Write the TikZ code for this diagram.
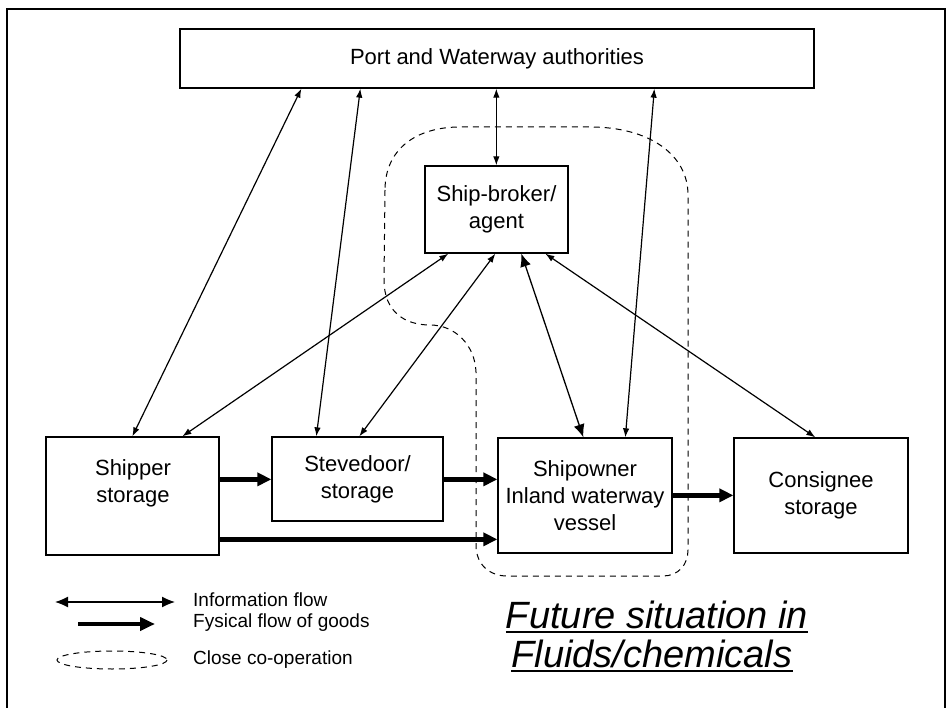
\documentclass[tikz,border=0pt]{standalone}
\usepackage{fontspec}
\setmainfont{Liberation Sans}
\usetikzlibrary{arrows.meta,calc}
\begin{document}
\begin{tikzpicture}[x=1pt,y=-1pt,
  box/.style={draw,line width=1.3pt,inner sep=0pt},
  lbl/.style={font=\fontsize{22}{27}\selectfont,align=center,inner sep=0pt},
  legtext/.style={font=\fontsize{19}{22}\selectfont,anchor=base west,inner sep=0pt},
  ttl/.style={font=\itshape\fontsize{38}{44}\selectfont,anchor=base,inner sep=0pt},
  info/.style={line width=1.2pt,{Latex[length=9pt,width=6.5pt]}-{Latex[length=9pt,width=6.5pt]}},
  infobig/.style={line width=1.3pt,{Latex[length=13pt,width=11pt]}-{Latex[length=13pt,width=11pt]}},
  goods/.style={line width=4.5pt,-{Triangle[length=14pt,width=13pt]}},
  coop/.style={line width=1pt,dash pattern=on 6pt off 5pt}
]
\useasboundingbox (0,0) rectangle (947,708);
\fill[white] (0,0) rectangle (947,708);

% outer frame
\draw[line width=1.5pt] (7,708) -- (7,9) -- (945,9) -- (945,708);

% boxes
\node[box,minimum width=634,minimum height=59] (port) at (497,58.5) {};
\node[box,minimum width=143,minimum height=87] (broker) at (496.5,209.5) {};
\node[box,minimum width=173,minimum height=118] (shipper) at (132.5,496) {};
\node[box,minimum width=171,minimum height=84] (steve) at (357.5,479) {};
\node[box,minimum width=174,minimum height=115] (owner) at (585,495.5) {};
\node[box,minimum width=174,minimum height=115] (consignee) at (821,495.5) {};

% box texts
\node[lbl] (portT) at (port.center) {Port and Waterway authorities};
\node[lbl] (brokerT) at (broker.center) {Ship-broker/\\agent};
\node[lbl] (shipperT) at (133,483) {Shipper\\storage};
\node[lbl] (steveT) at (steve.center) {Stevedoor/\\storage};
\node[lbl] (ownerT) at (owner.center) {Shipowner\\Inland waterway\\vessel};
\node[lbl] (consigneeT) at (consignee.center) {Consignee\\storage};

% close co-operation area
\draw[coop] (385,190) -- (384,280)
  .. controls (384,312) and (405,325) .. (430,325)
  .. controls (455,325) and (475,345) .. (476,372)
  -- (476,545)
  .. controls (476,565) and (490,576) .. (507,576)
  -- (663,576)
  .. controls (678,576) and (688,565) .. (688,550)
  -- (688,195)
  .. controls (688,155) and (650,127) .. (590,127)
  -- (460,127)
  .. controls (415,127) and (385,150) .. cycle;

% information flows
\draw[info] ($(port.south west)+(122,0)$) -- ($(shipper.north west)+(87,0)$);
\draw[info] ($(port.south west)+(181,0)$) -- ($(steve.north west)+(45,0)$);
\draw[info] ($(port.south west)+(317,0)$) -- ($(broker.north west)+(72,0)$);
\draw[info] ($(port.south west)+(475,0)$) -- ($(owner.north west)+(128,0)$);
\draw[info] ($(broker.south west)+(24,0)$) -- ($(shipper.north west)+(137,0)$);
\draw[info] ($(broker.south west)+(71,0)$) -- ($(steve.north west)+(88,0)$);
\draw[infobig] ($(broker.south west)+(97,0)$) -- ($(owner.north west)+(86,0)$);
\draw[info] ($(broker.south west)+(121,0)$) -- ($(consignee.north west)+(82,0)$);

% physical flows of goods
\draw[goods] ($(shipper.north east)+(0,43)$) -- ($(steve.north west)+(0,43)$);
\draw[goods] ($(steve.north east)+(0,43)$) -- ($(owner.north west)+(0,42)$);
\draw[goods] ($(shipper.north east)+(0,103)$) -- ($(owner.north west)+(0,102)$);
\draw[goods] ($(owner.north east)+(0,58)$) -- ($(consignee.north west)+(0,58)$);

% legend
\coordinate (infoL) at (55,602);
\coordinate (infoR) at (175,602);
\coordinate (goodsL) at (78,624);
\coordinate (goodsR) at (155,624);
\draw[line width=1.3pt,{Latex[length=13pt,width=11pt]}-{Latex[length=13pt,width=11pt]}] (infoL) -- (infoR);
\draw[line width=4.5pt,-{Triangle[length=15pt,width=13pt]}] (goodsL) -- (goodsR);
\draw[coop] (112,660) ellipse [x radius=55, y radius=9];
\node[legtext] (legInfo) at (193,606) {Information flow};
\node[legtext] (legGoods) at (193,627) {Fysical flow of goods};
\node[legtext] (legCoop) at (193,664) {Close co-operation};

% title
\node[ttl] (t1) at (657,628) {Future situation in};
\node[ttl] (t2) at (652,667) {Fluids/chemicals};
\draw[line width=1.6pt] ($(t1.base west)+(0,4)$) -- ($(t1.base east)+(0,4)$);
\draw[line width=1.6pt] ($(t2.base west)+(0,4)$) -- ($(t2.base east)+(0,4)$);
\end{tikzpicture}
\end{document}
